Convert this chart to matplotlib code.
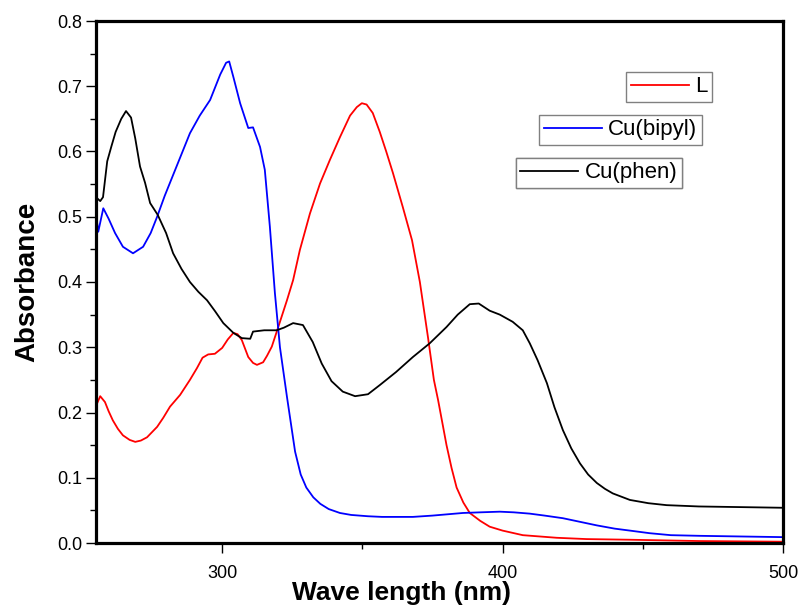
import matplotlib
matplotlib.use("Agg")
import matplotlib.pyplot as plt
from matplotlib.lines import Line2D
from matplotlib.ticker import MultipleLocator, FormatStrFormatter

plt.rcParams['font.family'] = ['Liberation Sans', 'DejaVu Sans']

# ---- data ----
x_L = [255, 256.5, 258.2, 259.5, 261, 262.8, 264.6, 267, 269, 271, 273.2, 275, 276.8, 279, 281.4,
       285, 288.5, 291, 293, 295, 297.4, 300, 302, 304, 305.5, 307, 309.3, 311, 312.4, 314.6, 316,
       317.7, 320, 323.1, 325.3, 327.7, 331.3, 334.9, 338.4, 342, 345.6, 348, 349.8, 351.5, 353.7,
       356.2, 358.5, 360.9, 364.4, 367.7, 370.5, 373.4, 375.5, 377, 378.7, 380, 381.8, 383.6, 386,
       388.3, 392, 395.4, 400, 407.2, 419.3, 430, 445.4, 470, 500]
y_L = [0.210, 0.225, 0.216, 0.202, 0.188, 0.175, 0.165, 0.158, 0.155, 0.157, 0.162, 0.170, 0.178,
       0.192, 0.209, 0.227, 0.250, 0.268, 0.284, 0.289, 0.290, 0.299, 0.312, 0.322, 0.320, 0.311,
       0.285, 0.276, 0.273, 0.277, 0.287, 0.301, 0.331, 0.372, 0.403, 0.449, 0.505, 0.551, 0.587,
       0.622, 0.655, 0.668, 0.674, 0.672, 0.659, 0.630, 0.600, 0.567, 0.515, 0.464, 0.400, 0.315,
       0.250, 0.219, 0.180, 0.150, 0.115, 0.085, 0.062, 0.046, 0.034, 0.025, 0.019, 0.012, 0.008,
       0.006, 0.005, 0.003, 0.002]

x_bipyl = [255, 255.8, 257.6, 259.5, 261.8, 264.6, 268.2, 271.8, 274.5, 276.8, 279.5, 282.5, 285.5,
           288.5, 292, 295.7, 299.3, 301.4, 302.5, 304, 306.4, 309.3, 311, 313.5, 315.2, 317, 318.8,
           320.6, 323.1, 326, 328, 330, 332.5, 335, 338, 342, 346, 352, 357, 362, 368, 375, 385.8,
           392, 399, 404, 409.7, 415, 421.5, 427, 433.6, 440, 445.4, 452.5, 460, 470.3, 485, 500]
y_bipyl = [0.505, 0.477, 0.513, 0.497, 0.475, 0.454, 0.444, 0.454, 0.475, 0.500, 0.532, 0.564,
           0.596, 0.628, 0.655, 0.679, 0.718, 0.736, 0.738, 0.714, 0.674, 0.636, 0.637, 0.607,
           0.572, 0.485, 0.383, 0.300, 0.224, 0.140, 0.105, 0.085, 0.070, 0.060, 0.052, 0.046,
           0.043, 0.041, 0.040, 0.040, 0.040, 0.042, 0.046, 0.047, 0.048, 0.047, 0.045, 0.042,
           0.038, 0.033, 0.027, 0.022, 0.019, 0.015, 0.012, 0.011, 0.010, 0.009]

x_phen = [255, 256.5, 257.5, 259, 260.5, 262, 264, 265.7, 267.5, 269, 270.7, 272.5, 274.3, 277, 280,
          282.5, 285.5, 288.5, 291.5, 294.6, 297.5, 300.4, 304, 307, 310, 311, 315, 319.4, 322,
          325.3, 328.8, 332.3, 335.5, 339, 343, 347.4, 352, 356.2, 362, 368, 374, 380, 384, 388.3,
          391.5, 395.4, 399, 403.6, 407.2, 409.7, 412.5, 415.8, 418.5, 421.5, 424.5, 427.6, 430.5,
          433.6, 436.5, 439.3, 445.4, 452, 458.5, 470, 485, 500]
y_phen = [0.530, 0.524, 0.530, 0.585, 0.608, 0.630, 0.650, 0.662, 0.652, 0.620, 0.577, 0.552, 0.521,
          0.503, 0.475, 0.444, 0.420, 0.400, 0.385, 0.372, 0.355, 0.337, 0.322, 0.314, 0.313, 0.324,
          0.326, 0.326, 0.330, 0.337, 0.334, 0.308, 0.275, 0.248, 0.232, 0.225, 0.228, 0.242, 0.262,
          0.285, 0.306, 0.331, 0.350, 0.366, 0.367, 0.356, 0.350, 0.339, 0.326, 0.306, 0.280, 0.245,
          0.208, 0.173, 0.145, 0.122, 0.105, 0.092, 0.083, 0.076, 0.066, 0.061, 0.058, 0.056, 0.055,
          0.054]

labels = ["L", "Cu(bipyl)", "Cu(phen)"]
colors = ["#ff0000", "#0000ff", "#000000"]

# ---- figure ----
fig = plt.figure(figsize=(8.04, 6.10), dpi=100)
ax = fig.add_axes([96/804, 1-543/610, (783-96)/804, (543-21)/610])

series = [(x_L, y_L), (x_bipyl, y_bipyl), (x_phen, y_phen)]
for (xs, ys), c in zip(series, colors):
    ax.plot(xs, ys, color=c, lw=1.3)

ax.set_xlim(255, 500)
ax.set_ylim(0.0, 0.8)
ax.xaxis.set_major_locator(MultipleLocator(100))
ax.xaxis.set_minor_locator(MultipleLocator(50))
ax.yaxis.set_major_locator(MultipleLocator(0.1))
ax.yaxis.set_minor_locator(MultipleLocator(0.05))
ax.yaxis.set_major_formatter(FormatStrFormatter('%.1f'))

for s in ax.spines.values():
    s.set_linewidth(2.3)
ax.tick_params(axis='both', which='major', direction='out', length=7, width=1.0,
               labelsize=13)
ax.tick_params(axis='x', which='major', pad=9)
ax.tick_params(axis='y', which='major', pad=3)
ax.tick_params(axis='both', which='minor', direction='out', length=4, width=1.0)
ax.tick_params(top=False, right=False, which='both')

ax.set_xlabel("Wave length (nm)", fontsize=19, fontweight='bold')
ax.set_ylabel("Absorbance", fontsize=20, fontweight='bold')
ax.xaxis.set_label_coords(0.445, -0.073)
ax.yaxis.set_label_coords(-0.0815, 0.5)

anchors = [(0.8967, 0.9023), (0.882, 0.820), (0.853, 0.7375)]
for lab, c, anc in zip(labels, colors, anchors):
    h = Line2D([0], [0], color=c, lw=1.3)
    leg = ax.legend([h], [lab], loc='upper right', bbox_to_anchor=anc, borderaxespad=0,
                    fontsize=16, frameon=True, fancybox=False, framealpha=1,
                    edgecolor='#808080', handlelength=2.6, handletextpad=0.3,
                    borderpad=0.2)
    leg.get_frame().set_linewidth(1.0)
    ax.add_artist(leg)

fig.savefig("out.png", dpi=100)
